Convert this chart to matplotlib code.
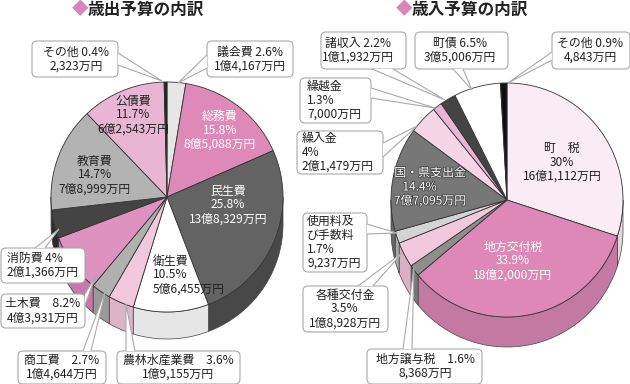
import numpy as np
import matplotlib
matplotlib.use('Agg')
import matplotlib.pyplot as plt
import matplotlib.patheffects as pe
from matplotlib.patches import Polygon, FancyBboxPatch

plt.rcParams['font.family'] = ['Noto Sans CJK JP', 'DejaVu Sans']

# porcentajes en el orden del reloj, desde arriba
gastos_pct = [2.6, 15.8, 25.8, 10.5, 3.6, 2.7, 8.2, 4, 14.7, 11.7, 0.4]
ingresos_pct = [30, 33.9, 1.6, 3.5, 1.7, 14.4, 4, 1.3, 2.2, 6.5, 0.9]

gastos_top = ['#e6e6e6', '#de89b8', '#636363', '#ffffff', '#f2c8dc', '#b0b0b0',
              '#de92bf', '#444444', '#b3b3b3', '#e8b5d2', '#222222']
gastos_wall = ['#cccccc', '#c478a3', '#484848', '#e6e6e6', '#dcb4c8', '#999999',
               '#c878a8', '#2a2a2a', '#999999', '#cc9ab6', '#111111']
ingresos_top = ['#f9ecf4', '#dd88b6', '#8e8e8e', '#f2c8dc', '#d4d4d4', '#777777',
                '#f5d5e6', '#e8b5d2', '#444444', '#ffffff', '#111111']
ingresos_wall = ['#e4d8e0', '#c479a3', '#777777', '#dcb0c4', '#aaaaaa', '#666666',
                 '#dcbccc', '#cc9ab6', '#2a2a2a', '#e6e6e6', '#000000']

# texto, x, y, alineacion, color
gastos_dentro = [
    ('総務費\n15.8%\n8億5,088万円', 220, 130, 'center', 'white'),
    ('民生費\n25.8%\n13億8,329万円', 228, 205, 'center', 'white'),
    ('衛生費\n10.5%\n5億6,455万円', 153, 275, 'left', '#222222'),
    ('教育費\n14.7%\n7億8,999万円', 95, 175, 'center', '#222222'),
    ('公債費\n11.7%\n6億2,543万円', 133, 115, 'center', '#222222'),
]
ingresos_dentro = [
    ('町　税\n30%\n16億1,112万円', 562, 162, 'center', '#222222'),
    ('地方交付税\n33.9%\n18億2,000万円', 513, 261, 'center', 'white'),
]

# texto, caja (x0, y0, x1, y1), base y punta del globo, x del texto, alineacion
globos = [
    ('その他 0.4%\n2,323万円', (32, 41, 118, 77), [(118, 53), (118, 65)], (162, 81), 76, 'center'),
    ('議会費 2.6%\n1億4,167万円', (207, 41, 293, 77), [(207, 68), (207, 55)], (178, 83), 250, 'center'),
    ('消防費 4%\n2億1,366万円', (1, 248, 85, 283), [(35, 248), (45, 248)], (59, 229), 7, 'left'),
    ('土木費　8.2%\n4億3,931万円', (1, 294, 85, 328), [(85, 294), (85, 305)], (96, 275), 43, 'center'),
    ('商工費　2.7%\n1億4,644万円', (18, 351, 106, 384), [(83, 351), (91, 351)], (106, 289), 62, 'center'),
    ('農林水産業費　3.6%\n1億9,155万円', (117, 351, 240, 384), [(126, 351), (135, 351)], (126, 304), 178, 'center'),
    ('諸収入 2.2%\n1億1,932万円', (321, 32, 406, 69), [(372, 69), (393, 69)], (445, 100), 358, 'center'),
    ('町債 6.5%\n3億5,006万円', (415, 32, 508, 69), [(453, 69), (463, 69)], (472, 90), 460, 'center'),
    ('その他 0.9%\n4,843万円', (552, 32, 630, 69), [(552, 60), (552, 52)], (508, 83), 590, 'center'),
    ('繰越金\n1.3%\n7,000万円', (300, 78, 371, 123), [(371, 88), (371, 98)], (435, 108), 307, 'left'),
    ('繰入金\n4%\n2億1,479万円', (297, 131, 383, 174), [(383, 143), (383, 157)], (417, 126), 302, 'left'),
    ('使用料及\nび手数料\n1.7%\n9,237万円', (303, 213, 367, 272), [(367, 224), (367, 234)], (397, 233), 307, 'left'),
    ('各種交付金\n3.5%\n1億8,928万円', (303, 286, 388, 332), [(358, 286), (373, 286)], (402, 253), 345, 'center'),
    ('地方譲与税　1.6%\n8,368万円', (367, 349, 482, 384), [(403, 349), (412, 349)], (414, 267), 425, 'center'),
]


def borde(cx, cy, rx, ry, t0, t1, dy=0):
    t = np.radians(np.linspace(t0, t1, max(int(abs(t1 - t0)) + 2, 2)))
    return np.column_stack((cx + rx * np.sin(t), cy - ry * np.cos(t) + dy))


def pastel(ax, valores, top, wall, cx, cy, rx, ry, prof):
    acum = np.cumsum([0] + valores) / sum(valores) * 360
    # primero las paredes laterales
    for i in range(len(valores)):
        a = max(acum[i], 90)
        b = min(acum[i + 1], 270)
        if b > a:
            arriba = borde(cx, cy, rx, ry, a, b)
            abajo = borde(cx, cy, rx, ry, b, a, prof)
            ax.add_patch(Polygon(np.vstack((arriba, abajo)), fc=wall[i], ec='#444444', lw=0.5, zorder=2))
    for i in range(len(valores)):
        pts = np.vstack(([(cx, cy)], borde(cx, cy, rx, ry, acum[i], acum[i + 1])))
        ax.add_patch(Polygon(pts, fc=top[i], ec='#333333', lw=0.6, zorder=3))


fig = plt.figure(figsize=(6.3, 3.84), dpi=100)
ax = fig.add_axes([0, 0, 1, 1])
ax.set_xlim(0, 630)
ax.set_ylim(384, 0)
ax.axis('off')

pastel(ax, gastos_pct, gastos_top, gastos_wall, 167, 197, 116, 115, 27)
pastel(ax, ingresos_pct, ingresos_top, ingresos_wall, 507, 200, 116, 117, 30)

for txt, x, y, al, col in gastos_dentro + ingresos_dentro:
    ax.text(x, y, txt, ha=al, va='center', fontsize=8.6, color=col, linespacing=1.1, zorder=6)

# este rotulo va blanco con contorno oscuro
ax.text(430, 187, '国・県支出金\n14.4%        \n7億7,095万円', ha='center', va='center', fontsize=8.6,
        color='white', linespacing=1.1, zorder=6,
        path_effects=[pe.withStroke(linewidth=1.2, foreground='#444444')])

for txt, caja, base, punta, xt, al in globos:
    x0, y0, x1, y1 = caja
    ax.add_patch(FancyBboxPatch((x0 + 4, y0 + 4), x1 - x0 - 8, y1 - y0 - 8,
                                boxstyle='round,pad=4,rounding_size=5',
                                fc='white', ec='#aaaaaa', lw=0.8, zorder=4, clip_on=False))
    ax.add_patch(Polygon([base[0], punta, base[1]], closed=False, fc='white', ec='#aaaaaa', lw=0.8, zorder=5))
    ax.text(xt, (y0 + y1) / 2, txt, ha=al, va='center', fontsize=8.6, color='#222222',
            linespacing=1.1, zorder=6)

ax.text(72, 10, '◆', color='#d985b5', fontsize=12, ha='left', va='center')
ax.text(88, 10, '歳出予算の内訳', color='#222222', fontsize=12, fontweight='bold', ha='left', va='center')
ax.text(396, 10, '◆', color='#d985b5', fontsize=12, ha='left', va='center')
ax.text(412, 10, '歳入予算の内訳', color='#222222', fontsize=12, fontweight='bold', ha='left', va='center')

fig.savefig('out.png', dpi=100)
